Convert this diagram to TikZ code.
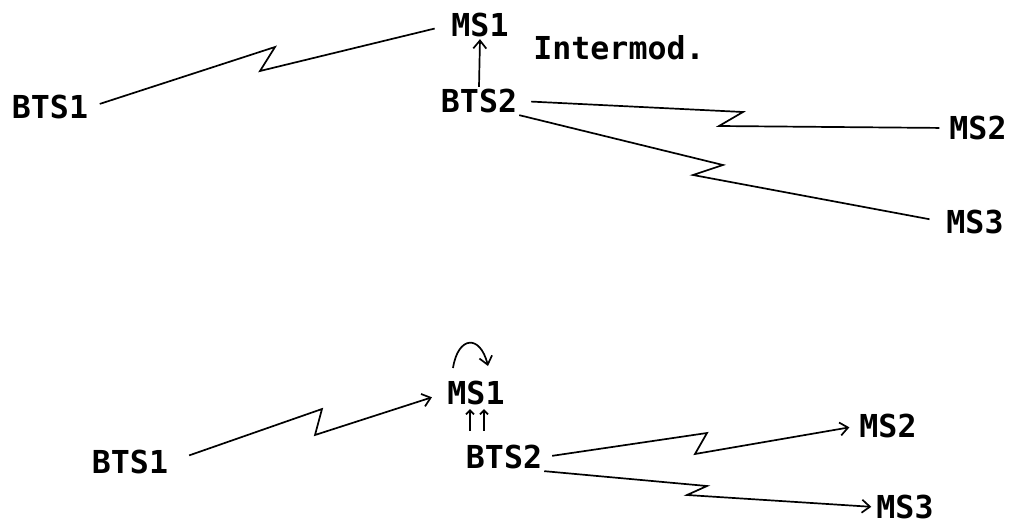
\documentclass[tikz,border=0pt]{standalone}
\usepackage{fontspec}
\setmonofont{DejaVu Sans Mono}
\usetikzlibrary{arrows.meta}
\tikzset{
	station/.style={font=\ttfamily\bfseries\fontsize{31.6}{32}\selectfont,inner sep=2pt},
	radio/.style={line width=1.7pt},
}
\begin{document}
\begin{tikzpicture}[x=1pt,y=-1pt,>={Straight Barb[length=8pt,width=13pt]}]
	\useasboundingbox (0,0) rectangle (1013,525);
	% intermodulation
	\node[station] (bts1A) at (50,107) {BTS1};
	\node[station] (ms1A) at (480,25) {MS1};
	\node[station] (intermod) at (619,48) {Intermod.};
	\node[station] (bts2A) at (479,101) {BTS2};
	\node[station] (ms2A) at (978,128) {MS2};
	\node[station] (ms3A) at (975,222) {MS3};
	\draw[radio,shorten <=10pt,shorten >=15pt] (bts1A.east) -- (275,47) -- (260,71) -- (ms1A.west);
	\draw[radio,->] (bts2A.north) -- (ms1A.south);
	\draw[radio,shorten <=12pt,shorten >=8pt] (bts2A.east) -- (743,112) -- (719,126) -- (ms2A.west);
	\draw[radio,shorten >=15pt] (bts2A.south east) -- (723,165) -- (693,175) -- (ms3A.west);
	% after
	\node[station] (bts1B) at (130,462) {BTS1};
	\node[station] (ms1B) at (476,393) {MS1};
	\node[station] (bts2B) at (504,457) {BTS2};
	\node[station] (ms2B) at (888,426) {MS2};
	\node[station] (ms3B) at (905,507) {MS3};
	\coordinate (loopA) at (453,368);
	\coordinate (loopB) at (488,366);
	\draw[radio,->,shorten <=20pt,shorten >=14pt] (bts1B.east) -- (322,409) -- (315,435) -- (ms1B.west);
	\draw[radio,->] (loopA) .. controls (458,336) and (480,334) .. (loopB);
	\draw[radio,-{Straight Barb[length=4pt,width=8pt]},shorten <=12pt,shorten >=2pt] ([xshift=-6pt]ms1B.south |- bts2B.north) -- ([xshift=-6pt]ms1B.south);
	\draw[radio,-{Straight Barb[length=4pt,width=8pt]},shorten <=12pt,shorten >=2pt] ([xshift=8pt]ms1B.south |- bts2B.north) -- ([xshift=8pt]ms1B.south);
	\draw[radio,->,shorten <=8pt,shorten >=8pt] (bts2B.east) -- (707,433) -- (695,454) -- (ms2B.west);
	\draw[radio,->,shorten >=3pt] (bts2B.south east) -- (707,486) -- (687,495) -- (ms3B.west);
\end{tikzpicture}
\end{document}
